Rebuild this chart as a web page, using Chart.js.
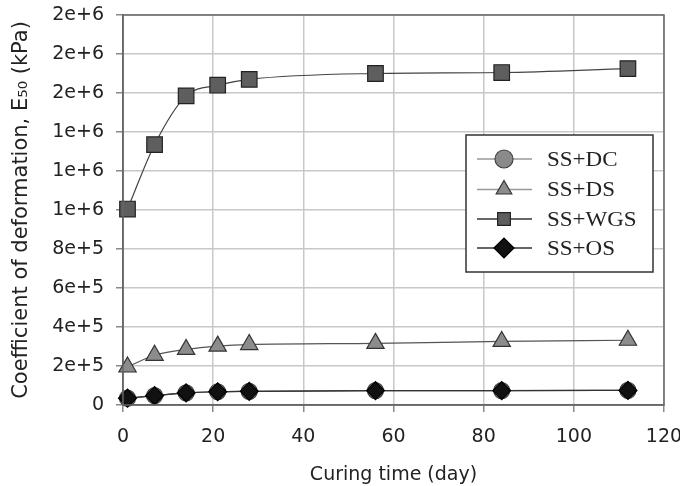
<!DOCTYPE html>
<html><head><meta charset="utf-8">
<script src="https://cdn.jsdelivr.net/npm/chart.js@4/dist/chart.umd.min.js"></script>
<style>html,body{margin:0;padding:0;background:#fff}#wrap{width:680px;height:486px}</style>
</head><body><div id="wrap"><canvas id="c" width="680" height="486"></canvas></div>
<script>
const days = [1, 7, 14, 21, 28, 56, 84, 112];
const ssDC  = [35000, 48000, 62000, 68000, 70000, 74000, 74000, 75000];
const ssDS  = [195000, 255000, 285000, 302000, 310000, 316000, 326000, 332000];
const ssWGS = [1005000, 1335000, 1585000, 1640000, 1670000, 1700000, 1705000, 1725000];
const ssOS  = [35000, 48000, 62000, 68000, 70000, 74000, 74000, 75000];
const seriesNames = ['SS+DC', 'SS+DS', 'SS+WGS', 'SS+OS'];
const yTickLabels = ['0','2e+5','4e+5','6e+5','8e+5','1e+6','1e+6','1e+6','2e+6','2e+6','2e+6'];
const xTickValues = [0, 20, 40, 60, 80, 100, 120];

const pts = (vals) => days.map((d, i) => ({x: d, y: vals[i]}));

const styles = [
  {pointStyle:'circle',   radius:8,  fill:'#8a8a8a', stroke:'#444', line:'#444', legendLine:'#999'},
  {pointStyle:'triangle', radius:10, fill:'#8c8c8c', stroke:'#333', line:'#555', legendLine:'#999'},
  {pointStyle:'rect',     radius:11, fill:'#5e5e5e', stroke:'#222', line:'#444', legendLine:'#333'},
  {pointStyle:'rectRot',  radius:9,  fill:'#111',    stroke:'#000', line:'#333', legendLine:'#333'}
];
const allVals = [ssDC, ssDS, ssWGS, ssOS];
const orders = [3, 2, 1, 0];

const datasets = allVals.map((v, i) => ({
  label: seriesNames[i],
  data: pts(v),
  order: orders[i],
  borderColor: styles[i].line,
  borderWidth: 1.2,
  backgroundColor: styles[i].fill,
  pointStyle: styles[i].pointStyle,
  pointRadius: styles[i].radius,
  pointHoverRadius: styles[i].radius,
  pointBackgroundColor: styles[i].fill,
  pointBorderColor: styles[i].stroke,
  pointBorderWidth: 1.2,
  cubicInterpolationMode: 'monotone',
  clip: false
}));

const framePlugin = {
  id: 'frameLegend',
  afterDraw(chart) {
    const ctx = chart.ctx, a = chart.chartArea;
    ctx.save();
    ctx.strokeStyle = '#666';
    ctx.lineWidth = 1.5;
    ctx.strokeRect(a.left, a.top, a.right - a.left, a.bottom - a.top);
    const bx = 466, by = 135, bw = 187, bh = 137;
    ctx.fillStyle = '#fff';
    ctx.fillRect(bx, by, bw, bh);
    ctx.strokeStyle = '#333';
    ctx.lineWidth = 1.5;
    ctx.strokeRect(bx, by, bw, bh);
    const rowY = [159, 189.5, 219, 248];
    seriesNames.forEach((name, i) => {
      const y = rowY[i];
      ctx.strokeStyle = styles[i].legendLine;
      ctx.lineWidth = 1.5;
      ctx.beginPath(); ctx.moveTo(477, y); ctx.lineTo(532, y); ctx.stroke();
      ctx.fillStyle = styles[i].fill;
      ctx.strokeStyle = styles[i].stroke;
      ctx.lineWidth = 1.2;
      Chart.helpers.drawPoint(ctx, {pointStyle: styles[i].pointStyle, radius: i === 3 ? 10 : 9, rotation: 0, borderWidth: 1.2}, 504, y);
      ctx.save();
      ctx.translate(547, y);
      ctx.scale(1.15, 1.05);
      ctx.fillStyle = '#222';
      ctx.font = '20px "Liberation Serif", "Times New Roman", serif';
      ctx.textBaseline = 'middle';
      ctx.textAlign = 'left';
      ctx.fillText(name, 0, 1);
      ctx.restore();
    });
    ctx.restore();
  }
};

new Chart(document.getElementById('c'), {
  type: 'line',
  data: { datasets },
  options: {
    responsive: false,
    animation: false,
    devicePixelRatio: 1,
    layout: { padding: { top: 15, right: 16, left: 0, bottom: 0 } },
    plugins: { legend: { display: false }, tooltip: { enabled: false } },
    scales: {
      x: {
        type: 'linear', min: 0, max: 120,
        afterBuildTicks: (s) => { s.ticks = xTickValues.map(v => ({value: v})); },
        afterFit: (s) => { s.height = 81; s.paddingLeft = 0; s.paddingRight = 0; },
        grid: { color: '#c8c8c8', lineWidth: 1.5, tickLength: 7, tickColor: '#888' },
        border: { color: '#666', width: 1.5 },
        ticks: { color: '#222', padding: 14, maxRotation: 0, font: { family: '"DejaVu Sans", sans-serif', size: 19 } },
        title: { display: true, text: 'Curing time (day)', color: '#222', padding: {top: 0, bottom: 0}, font: { family: '"DejaVu Sans", sans-serif', size: 19 } }
      },
      y: {
        type: 'linear', min: 0, max: 2000000,
        afterBuildTicks: (s) => { s.ticks = yTickLabels.map((t, i) => ({value: i * 200000})); },
        afterFit: (s) => { s.width = 123; s.paddingTop = 0; s.paddingBottom = 0; },
        grid: { color: '#c8c8c8', lineWidth: 1.5, tickLength: 7, tickColor: '#888' },
        border: { color: '#666', width: 1.5 },
        ticks: { color: '#222', padding: 12, font: { family: '"DejaVu Sans", sans-serif', size: 19 },
                 callback: (v, i) => yTickLabels[i] },
        title: { display: true, text: 'Coefficient of deformation, E\u2085\u2080 (kPa)', color: '#222', padding: {top: 9, bottom: 0}, font: { family: '"DejaVu Sans", sans-serif', size: 21 } }
      }
    }
  },
  plugins: [framePlugin]
});
</script>
</body></html>
